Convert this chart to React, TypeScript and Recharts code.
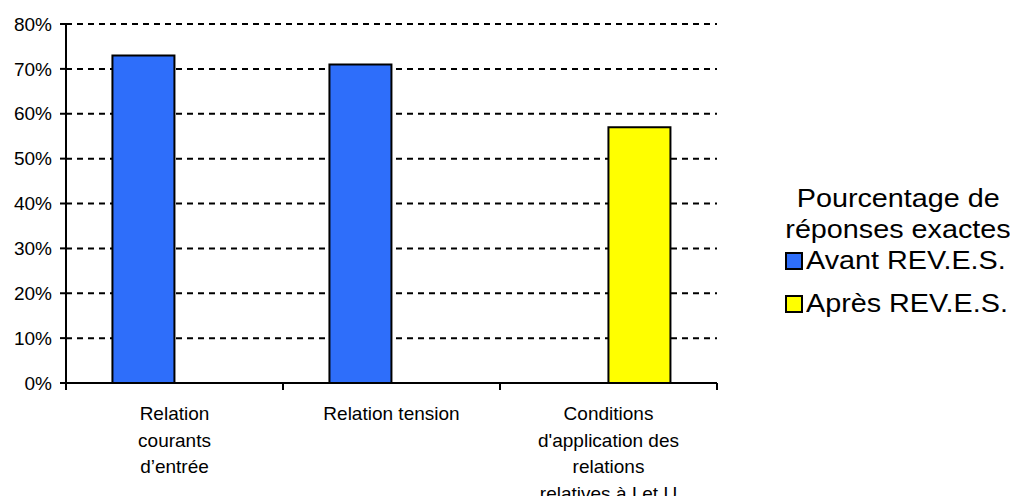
import { Bar, BarChart, CartesianGrid, Legend, XAxis, YAxis } from "recharts";

const categories = [
  "Relation\ncourants\nd’entrée",
  "Relation tension",
  "Conditions\nd'application des\nrelations\nrelatives à I et U",
];
const avant = [73, 71, null];
const apres = [null, null, 57];
const yTicks = [0, 10, 20, 30, 40, 50, 60, 70, 80];
const seriesNames = ["Avant REV.E.S.", "Après REV.E.S."];
const legendTitle = ["Pourcentage de", "réponses exactes"];

const data = categories.map((name, i) => ({ name, avant: avant[i], apres: apres[i] }));

const FONT = "'Liberation Sans', Arial, sans-serif";
const BAND = (709 - 58) / categories.length;

const CategoryTick = (props: any) => {
  const { x, y, payload, index } = props;
  const half = payload && payload.offset ? payload.offset : BAND / 2;
  const lines = String(payload.value).split("\n");
  return (
    <g>
      <line x1={x - half} x2={x - half} y1={y} y2={y + 7} stroke="#000" strokeWidth={2} />
      {index === categories.length - 1 && (
        <line x1={x + half} x2={x + half} y1={y} y2={y + 7} stroke="#000" strokeWidth={2} />
      )}
      <text x={x} y={y + 37} textAnchor="middle" fontSize={19} fontFamily={FONT} fill="#000">
        {lines.map((l, i) => (
          <tspan key={i} x={x} dy={i === 0 ? 0 : 26.5}>
            {l}
          </tspan>
        ))}
      </text>
    </g>
  );
};

const stretch = (origin: string) => ({
  display: "inline-block",
  transform: "scaleX(1.15)",
  transformOrigin: origin,
  whiteSpace: "nowrap" as const,
});

const LegendBox = (props: any) => {
  const payload = props.payload || [];
  const items = seriesNames.map((n) => payload.find((p: any) => p.value === n)).filter(Boolean);
  return (
    <div style={{ fontFamily: FONT, color: "#000", width: 260, fontSize: 25, lineHeight: "31px" }}>
      <div style={{ textAlign: "center" }}>
        {legendTitle.map((t) => (
          <div key={t}>
            <span style={stretch("center")}>{t}</span>
          </div>
        ))}
      </div>
      {items.map((it: any, i: number) => (
        <div
          key={it.value}
          style={{ display: "flex", alignItems: "center", marginLeft: 17, marginTop: i === 0 ? 0 : 12 }}
        >
          <span
            style={{ display: "inline-block", width: 14, height: 14, border: "2px solid #000", background: it.color, marginRight: 3 }}
          />
          <span style={stretch("left")}>{it.value}</span>
        </div>
      ))}
    </div>
  );
};

export default function App() {
  return (
    <div style={{ height: 488 }}>
      <BarChart
        width={1002}
        height={496}
        data={data}
        margin={{ top: 16, right: 293, left: 0, bottom: 21 }}
        barCategoryGap="21.4%"
        barGap={0}
      >
        <CartesianGrid vertical={false} stroke="#000" strokeWidth={2} strokeDasharray="6 5" />
        <XAxis
          dataKey="name"
          height={100}
          axisLine={{ stroke: "#000", strokeWidth: 2 }}
          tickLine={false}
          tickSize={0}
          tickMargin={0}
          interval={0}
          tick={<CategoryTick />}
        />
        <YAxis
          width={58}
          domain={[0, 80]}
          ticks={yTicks}
          interval={0}
          tickFormatter={(v) => `${v}%`}
          axisLine={{ stroke: "#000", strokeWidth: 2 }}
          tickLine={{ stroke: "#000", strokeWidth: 2 }}
          tickSize={6}
          tickMargin={8}
          tick={{ fill: "#000", fontSize: 19, fontFamily: FONT }}
        />
        <Legend
          layout="vertical"
          align="center"
          verticalAlign="middle"
          content={<LegendBox />}
          wrapperStyle={{ position: "absolute", left: 760, top: 175, width: 260 }}
        />
        <Bar dataKey="avant" name={seriesNames[0]} fill="#2E6EFA" stroke="#000" strokeWidth={2} isAnimationActive={false} />
        <Bar dataKey="apres" name={seriesNames[1]} fill="#FFFF00" stroke="#000" strokeWidth={2} isAnimationActive={false} />
      </BarChart>
    </div>
  );
}
